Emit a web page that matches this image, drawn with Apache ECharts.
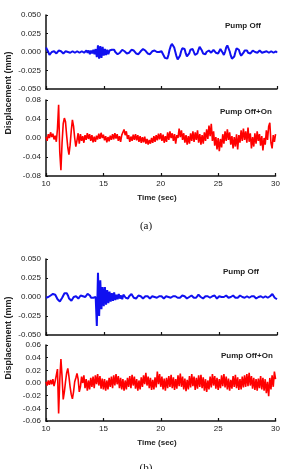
<!DOCTYPE html>
<html>
<head>
<meta charset="utf-8">
<script src="https://cdn.jsdelivr.net/npm/echarts@6/dist/echarts.min.js"></script>
<style>
html, body { margin: 0; padding: 0; background: #fff; }
#echarts { width: 283px; height: 469px; }
</style>
</head>
<body>
<div id="echarts"></div>
<script>
// sample step (sec) and start time; values below are in 0.001 mm
var t0 = 10;
var dt = 0.1;

// (a) Pump Off
var pumpOffA = [
  6, 4, 0, -4, -3, 0, 2, 1, -1, -2,
  0, 2, 3, 1, -1, -2, -1, 1, 1, 0,
  -1, -1, 1, 1, 0, -1, 0, 1, 0, -1,
  -1, 1, 1, -1, 0, 2, -1, 2, -3, 2,
  -2, 3, -3, 4, -7, 9, -9, 8, -8, 7,
  -5, 4, -4, 3, -3, 2, 0, 3, 4, 3,
  0, -2, -3, -3, -1, 1, 3, 3, 1, -1,
  -2, -2, -1, 1, 3, 3, 2, 0, -2, -3,
  -3, -1, 1, 3, 4, 4, 2, 0, -2, -3,
  -3, -1, 1, 2, 2, 1, 0, -1, 0, 1,
  1, -1, -5, -8, -10, -9, -4, 3, 8, 11,
  10, 6, 0, -6, -10, -9, -5, 1, 5, 7,
  4, -2, -6, -6, -2, 3, 5, 4, 0, -4,
  -5, -2, 3, 7, 6, 2, -2, -4, -3, 0,
  2, 2, 0, -1, 1, 3, 2, -1, -2, -2,
  1, 4, 3, -1, -4, 0, 6, 9, 7, 1,
  -5, -9, -10, -6, 0, 5, 6, 3, -2, -5,
  -4, -1, 2, 3, 2, -1, -3, -2, 0, 2,
  2, 0, -2, -1, 1, 2, 0, -1, -2, 0,
  1, 1, -1, -1, 1, 1, 0, -1, 0, 1,
  -1
];

// (a) Pump Off+On
var pumpOffOnA = [
  2, -6, 8, 0, 12, 2, 9, -3, 5, -8,
  20, 70, -30, -68, -10, 30, 42, 34, 5, -20,
  -35, -15, 15, 38, 25, 0, -18, -5, 10, -12,
  8, -6, 4, -10, 6, -4, 10, -2, 8, -6,
  6, -9, 3, -8, 5, -3, 9, -2, 11, 0,
  7, -5, 4, -9, 2, -7, 5, -4, 8, -3,
  10, -1, 8, -6, 4, -8, 6, 2, 18, 6,
  14, -2, 6, -8, 3, -6, 7, -4, 8, -5,
  6, -8, 4, -10, 2, -9, 3, -12, -2, -14,
  -4, -12, 0, -10, 4, -8, 6, -5, 9, -3,
  10, -6, 7, -10, 4, -8, 12, -4, 14, 0,
  10, -6, 8, -12, 6, 0, 20, 2, 16, -4,
  10, -10, 6, -14, 4, -12, 10, -6, 14, -8,
  12, -4, 16, -10, 8, -14, 6, -12, 12, -6,
  18, -2, 26, 4, 30, -6, 14, -16, 2, -24,
  0, -28, -2, -20, 8, -12, 14, -6, 18, -4,
  12, -14, 4, -22, 2, -18, 8, -24, 6, -10,
  16, -6, 20, -4, 14, -10, 22, -8, 10, -22,
  2, -18, 10, -12, 14, -6, 8, -16, 4, -26,
  0, -14, 16, -4, 24, 32, -10, -22, 6, -8,
  8
];

// (b) Pump Off
var pumpOffB = [
  -1, -1, 0, 1, 2, 3, 4, 4, 3, 0,
  -3, -5, -6, -4, -1, 2, 5, 6, 5, 2,
  -2, -4, -5, -3, 0, 2, 1, -1, -2, 0,
  2, 3, 1, -1, 0, 2, 4, 4, 2, -1,
  -2, -1, 1, 0, -38, 32, -25, 22, -16, 13,
  -12, 13, -10, 9, -8, 7, -6, 5, -5, 6,
  -4, 3, -3, 4, -2, 2, -3, 3, 2, -1,
  -3, -2, 1, 3, 4, 2, -1, -3, -2, 0,
  2, 3, 1, -1, -2, -1, 1, 2, 1, -1,
  -2, -1, 1, 2, 0, -1, -1, 0, 1, 2,
  1, -1, -2, -1, 1, 1, 0, -1, -1, 0,
  1, 2, 1, 0, -1, -2, -1, 1, 2, 3,
  1, -1, -2, -1, 0, 1, 2, 1, -1, -2,
  -1, 1, 3, 2, 0, -1, -2, -1, 1, 2,
  1, -1, -1, 0, 1, 3, 2, 0, -2, -1,
  1, 1, 0, -1, 0, 1, 2, 1, -1, -1,
  0, 1, 2, 1, -1, -2, -1, 1, 2, 1,
  0, -1, -1, 1, 1, 0, -1, 0, 1, 2,
  1, -1, -2, -1, 0, 1, 1, 0, -1, 0,
  1, 0, -1, -1, 1, 3, 4, 2, -1, -3,
  -3
];

// (b) Pump Off+On
var pumpOffOnB = [
  2, -4, 4, -3, 5, -2, 6, -5, 3, 0,
  22, -48, 5, 38, 10, -26, -14, 2, 16, 23,
  10, -6, -18, -25, -14, 2, 8, 15, 6, -14,
  -6, 10, 0, 12, -8, 6, -12, 4, -10, 8,
  -6, 10, -8, 12, -2, 14, -4, 11, -9, 7,
  -10, 6, -12, 4, -10, 8, -6, 10, -8, 12,
  -4, 14, -2, 11, -8, 8, -10, 6, -12, 4,
  -10, 8, -6, 11, -8, 13, -4, 10, -9, 6,
  -12, 4, -10, 9, -6, 12, -2, 16, -4, 10,
  -8, 8, -11, 5, -10, 9, -7, 18, -2, 14,
  -6, 10, -10, 7, -12, 8, -8, 11, -6, 13,
  -8, 9, -11, 6, -9, 12, -5, 15, -6, 10,
  -10, 7, -13, 5, -10, 11, -7, 14, -5, 10,
  -11, 8, -9, 12, -6, 13, -8, 9, -12, 6,
  -14, 4, -10, 10, -7, 14, -4, 11, -9, 8,
  -11, 6, -8, 12, -5, 14, -7, 10, -10, 7,
  -12, 5, -9, 11, -6, 13, -8, 9, -11, 6,
  -10, 10, -7, 12, -6, 14, -5, 16, -4, 11,
  -9, 8, -11, 6, -12, 7, -8, 11, -10, 8,
  -12, 6, -16, 2, -21, 8, -10, 12, -6, 18,
  6
];

// axis ranges per panel
var yMin = [-0.05, -0.08, -0.05, -0.06];
var yMax = [0.05, 0.08, 0.05, 0.06];
var yStep = [0.025, 0.04, 0.025, 0.02];
var yDigits = [3, 2, 3, 2];
var notes = ['Pump Off', 'Pump Off+On', 'Pump Off', 'Pump Off+On'];
var captions = ['(a)', '(b)'];

var seriesValues = [pumpOffA, pumpOffOnA, pumpOffB, pumpOffOnB];
var seriesColors = ['#1010f0', '#ff0000', '#1010f0', '#ff0000'];

var toPairs = function (arr) {
  return arr.map(function (v, i) {
    return [Math.round((t0 + i * dt) * 10) / 10, v / 1000];
  });
};

var font = '"Liberation Sans", Arial, sans-serif';
var grids = [
  {left: 46, top: 15, width: 231, height: 74},
  {left: 46, top: 100, width: 231, height: 76},
  {left: 46, top: 259, width: 231, height: 76},
  {left: 46, top: 345, width: 231, height: 76}
];

var xAxes = [], yAxes = [], series = [];
for (var i = 0; i < 4; i++) {
  xAxes.push({
    type: 'value', gridIndex: i, min: 10, max: 30, interval: 5,
    axisLine: {onZero: false, lineStyle: {color: '#111', width: 1.5}},
    axisTick: {inside: true, length: 3, lineStyle: {color: '#111', width: 1.2}},
    axisLabel: {show: i % 2 === 1, margin: 4, color: '#222', fontSize: 8, fontFamily: font},
    splitLine: {show: false}
  });
  (function (d) {
    yAxes.push({
      type: 'value', gridIndex: i, min: yMin[i], max: yMax[i], interval: yStep[i],
      axisLine: {show: true, onZero: false, lineStyle: {color: '#111', width: 1.5}},
      axisTick: {show: true, inside: true, length: 2, lineStyle: {color: '#111'}},
      axisLabel: {
        margin: 5, color: '#222', fontSize: 8, fontFamily: font,
        formatter: function (v) { return v.toFixed(d); }
      },
      splitLine: {show: false}
    });
  })(yDigits[i]);
  series.push({
    type: 'line', xAxisIndex: i, yAxisIndex: i,
    data: toPairs(seriesValues[i]),
    showSymbol: false, sampling: null,
    lineStyle: {color: seriesColors[i], width: i % 2 === 0 ? 2 : 1.6},
    animation: false
  });
}

var noteX = [225, 220, 223, 221];
var noteY = [26, 112, 272, 356];
var graphic = [];
for (var j = 0; j < 4; j++) {
  graphic.push({
    type: 'text', x: noteX[j], y: noteY[j],
    style: {text: notes[j], font: 'bold 8px ' + font, fill: '#222', align: 'left', verticalAlign: 'middle'}
  });
}
[93, 338].forEach(function (cy) {
  graphic.push({
    type: 'text', x: 9, y: cy, rotation: Math.PI / 2,
    style: {text: 'Displacement (mm)', font: 'bold 9px ' + font, fill: '#222', align: 'center', verticalAlign: 'middle'}
  });
});
[197.5, 443].forEach(function (cy) {
  graphic.push({
    type: 'text', x: 157, y: cy,
    style: {text: 'Time (sec)', font: 'bold 8px ' + font, fill: '#222', align: 'center', verticalAlign: 'middle'}
  });
});
graphic.push({
  type: 'text', x: 146, y: 226.5,
  style: {text: captions[0], font: '11px "Liberation Serif", serif', fill: '#111', align: 'center', verticalAlign: 'middle'}
});
graphic.push({
  type: 'text', x: 146, y: 463,
  style: {text: captions[1], font: '11px "Liberation Serif", serif', fill: '#111', align: 'center', verticalAlign: 'top'}
});

var myChart = echarts.init(document.getElementById('echarts'));
myChart.setOption({
  animation: false,
  grid: grids,
  xAxis: xAxes,
  yAxis: yAxes,
  series: series,
  graphic: graphic
});
</script>
</body>
</html>
